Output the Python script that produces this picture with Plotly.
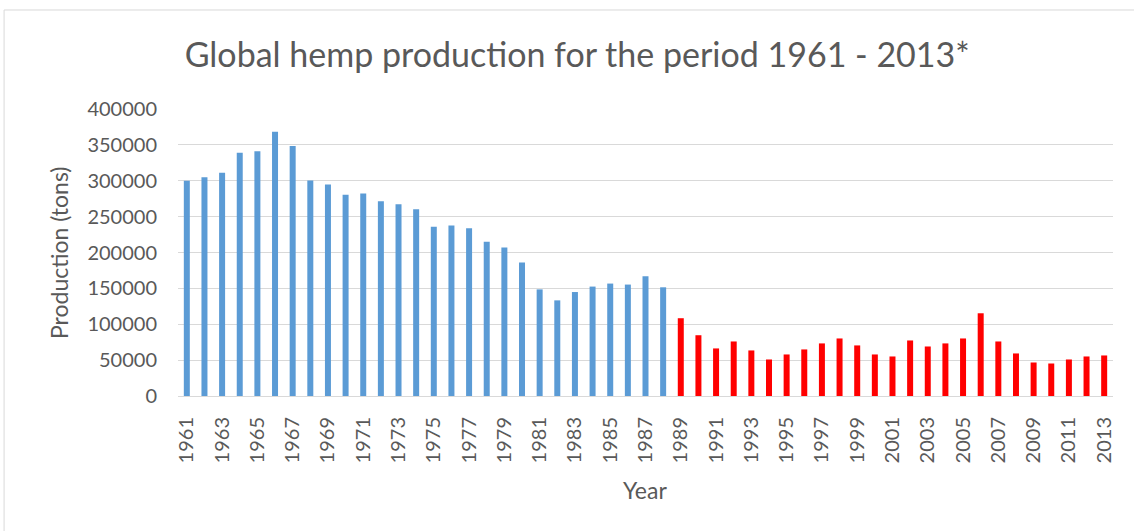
import plotly.graph_objects as go

_TEXT = "#595959"
_GRID = "#d9d9d9"
_BLUE = "#5b9bd5"
_RED = "#ff0000"
_FONT = "Lato, Open Sans, Arial, sans-serif"

years = list(range(1961, 2014))
production = [
    300000, 305000, 311000, 339000, 341000, 368400, 348600, 300500, 294900, 280500,
    282400, 271400, 267200, 260200, 236000, 237800, 233700, 214900, 207000, 186000,
    148600, 133300, 144900, 152500, 156700, 155300, 166900, 151500, 108400, 84700,
    66300, 76000, 63500, 50900, 57900, 64900, 73300, 80200, 70500, 57900,
    55100, 77400, 69000, 73300, 80200, 115300, 76000, 59300, 46700, 45300,
    50900, 55100, 56500,
]
split_year = 1989
bar_colors = [_BLUE if y < split_year else _RED for y in years]
tick_years = years[::2]

fig = go.Figure(go.Bar(
    x=years,
    y=production,
    width=0.34,
    marker=dict(color=bar_colors, line_width=0),
    showlegend=False,
))

fig.update_layout(
    width=1134,
    height=531,
    paper_bgcolor="#ffffff",
    plot_bgcolor="#ffffff",
    font=dict(family=_FONT, color=_TEXT, size=20),
    title=dict(
        text="Global hemp production for the period 1961 - 2013*",
        x=0.509, xanchor="center", y=0.896, yanchor="middle",
        font=dict(size=34, color=_TEXT),
    ),
    margin=dict(l=178, r=21, t=109, b=135),
    shapes=[dict(
        type="rect", xref="paper", yref="paper",
        x0=-0.186, x1=1.2, y0=-0.8, y1=1.345,
        line=dict(color=_GRID, width=1),
    )],
    annotations=[
        dict(text="Production (tons)", textangle=-90, xref="paper", yref="paper",
             x=(59 - 178) / 935, y=(396 - 253) / 287, xanchor="center", yanchor="middle",
             showarrow=False, font=dict(size=23, color=_TEXT)),
        dict(text="Year", xref="paper", yref="paper",
             x=(645 - 178) / 935, y=(396 - 490) / 287, xanchor="center", yanchor="middle",
             showarrow=False, font=dict(size=23, color=_TEXT)),
    ],
)

fig.update_xaxes(
    range=[1960.5, 2013.5],
    tickmode="array",
    tickvals=tick_years,
    ticktext=[str(y) for y in tick_years],
    tickangle=-90,
    tickfont=dict(size=20, color=_TEXT),
    ticklabelstandoff=12,
    showgrid=False,
    showline=True,
    linecolor=_GRID,
    linewidth=1,
    ticks="",
)
fig.update_yaxes(
    range=[0, 400000],
    dtick=50000,
    tickformat="d",
    showgrid=True,
    gridcolor=_GRID,
    gridwidth=1,
    zeroline=False,
    tickfont=dict(size=20, color=_TEXT),
    ticklabelstandoff=20,
    ticks="",
)

fig.write_html(
    "out.html",
    config={"displayModeBar": False},
    post_script="document.body.style.margin='0';",
)
